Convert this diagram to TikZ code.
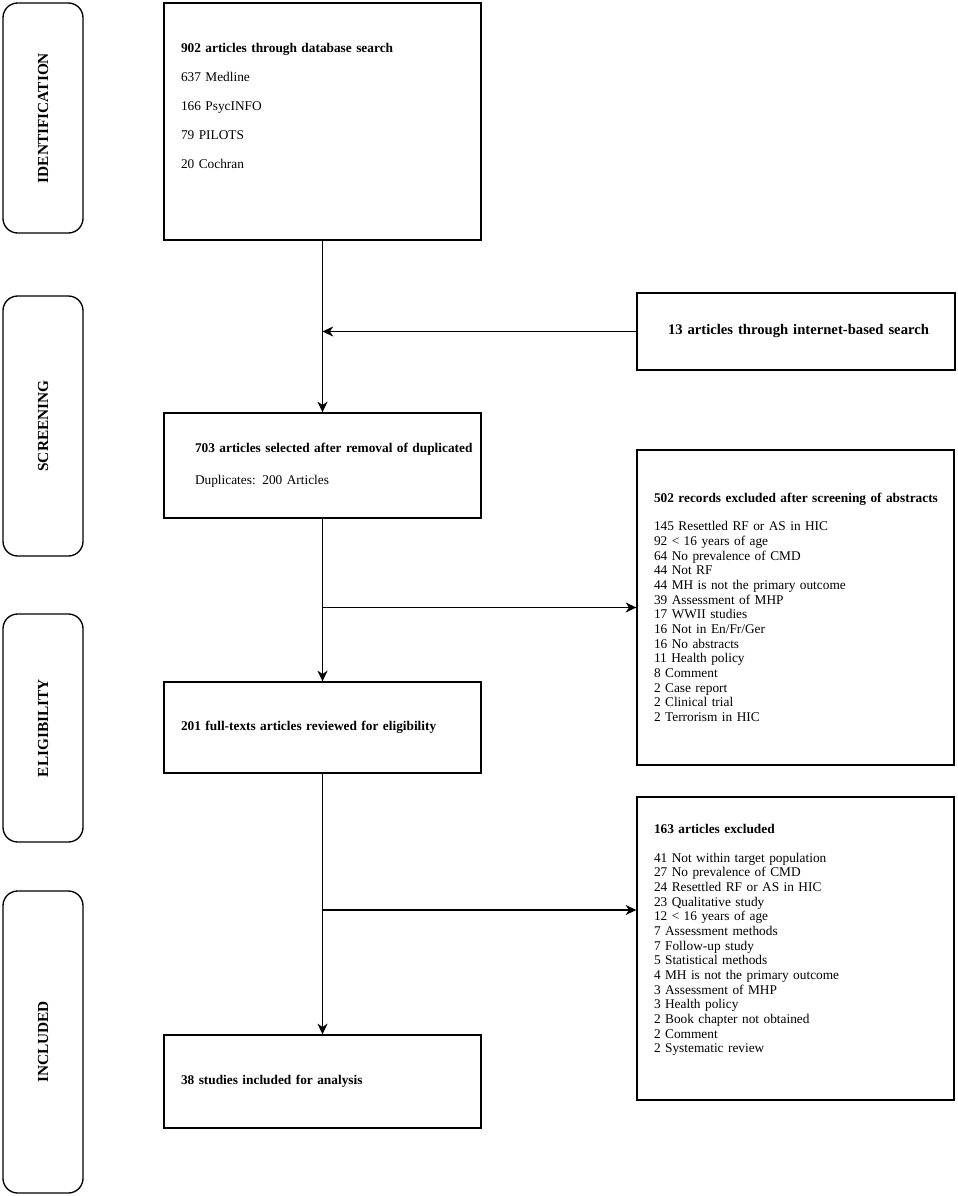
\documentclass[tikz,border=0pt]{standalone}
\usepackage{fontspec}
\setmainfont{Liberation Serif}
\usetikzlibrary{arrows.meta}

\tikzset{
  stage/.style={draw, line width=1pt, rounded corners=11pt, rotate=90,
    minimum height=60pt, font=\fontsize{11.5}{13}\selectfont\bfseries},
  flowbox/.style={draw, line width=1pt, align=left, inner xsep=12.75pt,
    text width=212.25pt, font=\fontsize{10}{13.5}\selectfont},
  listbox/.style={flowbox, font=\fontsize{10}{11}\selectfont},
  wideindent/.style={inner xsep=23.25pt, text width=191.25pt},
  flow/.style={line width=1pt, -{Stealth[length=8pt,width=7.5pt,inset=2.5pt]}}
}

\begin{document}
\begin{tikzpicture}[x=0.75pt,y=-0.75pt]
\useasboundingbox (0,0) rectangle (957,1196);

% stage labels on the left
\node[stage, minimum width=172.5pt] (ident) at (43,118) {IDENTIFICATION};
\node[stage, minimum width=195pt] (screen) at (43,426) {SCREENING};
\node[stage, minimum width=171pt] (elig) at (43,728) {ELIGIBILITY};
\node[stage, minimum width=226.5pt] (included) at (43,1042) {INCLUDED};

% main column
\node[flowbox, minimum height=177.75pt] (db) at (322.5,121.5)
  {\textbf{902 articles through database search}\\[8.25pt]
   637 Medline\\[8.25pt] 166 PsycINFO\\[8.25pt] 79 PILOTS\\[8.25pt] 20 Cochran\\[10.5pt]\mbox{}};
\node[flowbox, wideindent, minimum height=78.75pt] (dup) at (322.5,465.5)
  {\mbox{\textbf{703 articles selected after removal of duplicated}}\\[10.5pt]
   Duplicates: 200 Articles};
\node[flowbox, minimum height=68.25pt] (full) at (322.5,727.5)
  {\textbf{201 full-texts articles reviewed for eligibility}};
\node[flowbox, minimum height=69.75pt] (studies) at (322.5,1081.5)
  {\textbf{38 studies included for analysis}};

% right column
\node[flowbox, wideindent, text width=192pt, minimum height=57.75pt,
  font=\fontsize{11}{13.5}\selectfont] (internet) at (796,331.5)
  {\mbox{\textbf{13 articles through internet-based search}}};
\node[listbox, minimum height=236.25pt] (abstr) at (795.5,607.5)
  {\mbox{\textbf{502 records excluded after screening of abstracts}}\\[10pt]
   145 Resettled RF or AS in HIC\\
   92 < 16 years of age\\
   64 No prevalence of CMD\\
   44 Not RF\\
   44 MH is not the primary outcome\\
   39 Assessment of MHP\\
   17 WWII studies\\
   16 Not in En/Fr/Ger\\
   16 No abstracts\\
   11 Health policy\\
   8 Comment\\
   2 Case report\\
   2 Clinical trial\\
   2 Terrorism in HIC};
\node[listbox, minimum height=227.25pt] (excl) at (795.5,948.5)
  {\textbf{163 articles excluded}\\[10.75pt]
   41 Not within target population\\
   27 No prevalence of CMD\\
   24 Resettled RF or AS in HIC\\
   23 Qualitative study\\
   12 < 16 years of age\\
   7 Assessment methods\\
   7 Follow-up study\\
   5 Statistical methods\\
   4 MH is not the primary outcome\\
   3 Assessment of MHP\\
   3 Health policy\\
   2 Book chapter not obtained\\
   2 Comment\\
   2 Systematic review\\[4pt]\mbox{}};

% connectors
\coordinate (split) at (322.5,910);
\draw[flow] (db.south) -- (dup.north);
\draw[flow] (internet.west) -- (internet.west -| db.south);
\draw[flow] (dup.south) -- (full.north);
\draw[flow] (dup.south |- abstr.west) -- (abstr.west);
\draw[flow] (full.south) -- (studies.north);
\draw[flow] (split) -- (split -| excl.west);
\end{tikzpicture}
\end{document}
